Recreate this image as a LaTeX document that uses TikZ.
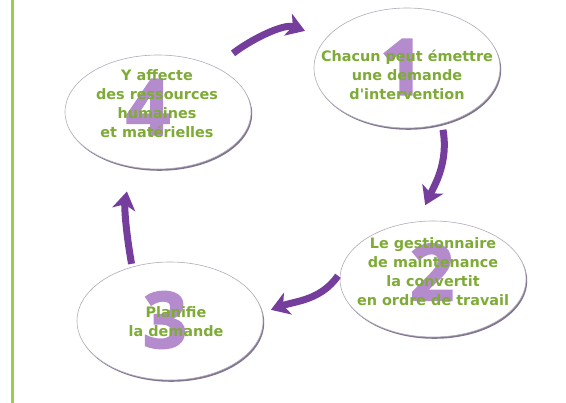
\documentclass[tikz,border=0pt]{standalone}
\usepackage{fontspec}
\usetikzlibrary{shapes.geometric,arrows.meta,shadows}
\newfontfamily\policebulle{DejaVu Sans}
\newfontfamily\policechiffre[FakeBold=2]{Open Sans Bold}
\definecolor{violetfleche}{RGB}{118,62,156}
\definecolor{violetchiffre}{RGB}{180,140,206}
\definecolor{vertexte}{RGB}{126,170,54}
\definecolor{vertbarre}{RGB}{152,206,78}
\definecolor{bordbulle}{RGB}{178,172,186}
\definecolor{ombrebulle}{RGB}{88,72,108}
\tikzset{
  bulle/.style={ellipse,draw=bordbulle,line width=.6pt,fill=white,
    minimum width=186pt,minimum height=116pt,inner sep=0pt,
    drop shadow={shadow xshift=1.2pt,shadow yshift=-1.8pt,fill=ombrebulle,opacity=.75}},
  chiffre/.style={text=violetchiffre,inner sep=0pt,
    font=\policechiffre\fontsize{78}{78}\selectfont},
  texte/.style={text=vertexte,align=center,inner sep=0pt,
    font=\policebulle\bfseries\fontsize{14.4}{19}\selectfont},
  fleche/.style={violetfleche,line width=7pt,
    -{Stealth[width=23pt,length=18pt,inset=5pt]}},
}
\begin{document}
\begin{tikzpicture}[x=1pt,y=1pt]
  \useasboundingbox (0,0) rectangle (566,403);
  \fill[white] (0,0) rectangle (566,403);
  \fill[vertbarre] (11,0) rectangle (14,403);

  % les quatre bulles
  \node[bulle,minimum height=120pt] (e1) at (407,335) {};
  \node[bulle,minimum height=116pt] (e2) at (433,124) {};
  \node[bulle,minimum height=118pt] (e3) at (170,82) {};
  \node[bulle,minimum height=114pt] (e4) at (158,291) {};

  % chiffres
  \node[chiffre] (d1) at (402,336) {1};
  \node[chiffre] (d2) at (432,131) {2};
  \node[chiffre] (d3) at (165,83) {3};
  \node[chiffre] (d4) at (148,296) {4};

  % textes
  \node[texte] (t1) at (407,328) {Chacun peut émettre\\une demande\\d'intervention};
  \node[texte] (t2) at (433,131) {Le gestionnaire\\de maintenance\\la convertit\\en ordre de travail};
  \node[texte] (t3) at (176,81) {Planifie\\la demande};
  \node[texte] (t4) at (157,299) {Y affecte\\des ressources\\humaines\\et matérielles};

  % fleches
  \draw[fleche,shorten <=22pt,shorten >=22pt] (e4.38) to[out=38,in=160] (e1.160);
  \draw[fleche,shorten <=6pt,shorten >=18pt] (e1.-58) to[out=-80,in=65] (e2.105);
  \draw[fleche,shorten <=4pt,shorten >=9pt] (e2.176) to[out=235,in=20] (e3.5);
  \draw[fleche,shorten <=3pt,shorten >=25pt] (e3.125) to[out=100,in=-100] (e4.-116);
\end{tikzpicture}
\end{document}
